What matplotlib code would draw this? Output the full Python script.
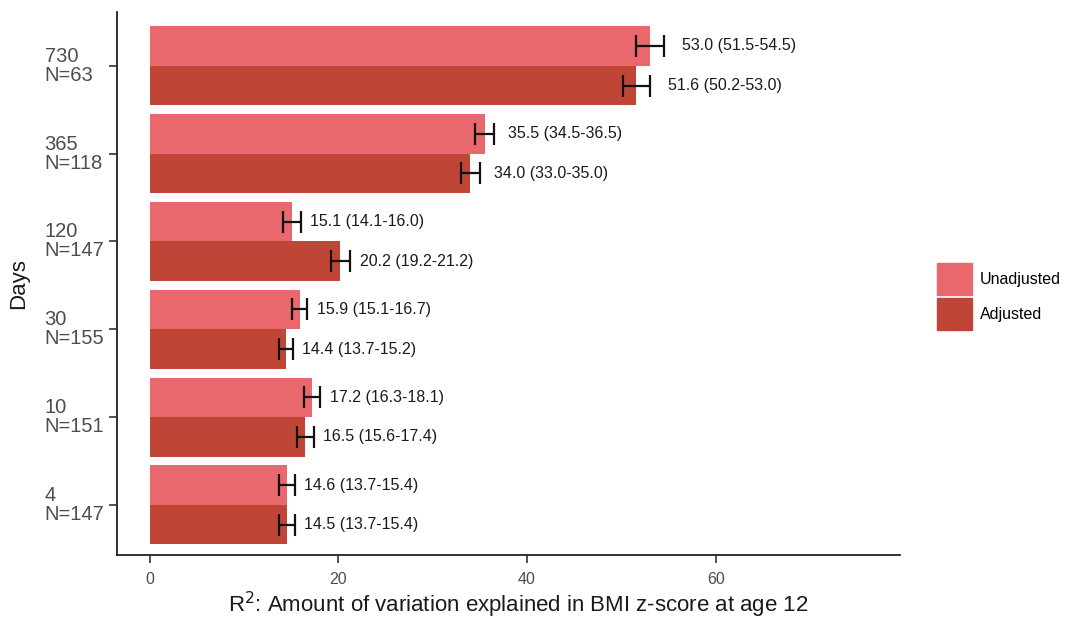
import numpy as np
import matplotlib.pyplot as plt

plt.rcParams['font.family'] = ['Liberation Sans', 'DejaVu Sans']

# data (top to bottom in the picture)
days = ['730', '365', '120', '30', '10', '4']
n_obs = [63, 118, 147, 155, 151, 147]
unadj = [53.0, 35.5, 15.1, 15.9, 17.2, 14.6]
unadj_lo = [51.5, 34.5, 14.1, 15.1, 16.3, 13.7]
unadj_hi = [54.5, 36.5, 16.0, 16.7, 18.1, 15.4]
adj = [51.6, 34.0, 20.2, 14.4, 16.5, 14.5]
adj_lo = [50.2, 33.0, 19.2, 13.7, 15.6, 13.7]
adj_hi = [53.0, 35.0, 21.2, 15.2, 17.4, 15.4]

c_unadj = '#E8686E'
c_adj = '#BF4536'

fig = plt.figure(figsize=(10.71, 6.18), dpi=100)
ax = fig.add_axes([0.109, 0.102, 0.731, 0.879])

# bottom group (4 days) at y=0
y = np.arange(len(days))[::-1].astype(float)
h = 0.45

def draw(vals, lo, hi, offset, color):
    vals = np.array(vals)
    lo = np.array(lo)
    hi = np.array(hi)
    yy = y + offset
    ax.barh(yy, vals, height=h, color=color, edgecolor='none')
    ax.errorbar(vals, yy, xerr=[vals - lo, hi - vals], fmt='none',
                ecolor='#111111', elinewidth=1.6, capsize=8, capthick=1.6)
    for v, l, u, yi in zip(vals, lo, hi, yy):
        ax.text(u + 0.6 + 0.025 * v, yi, f'{v:.1f} ({l:.1f}-{u:.1f})',
                va='center', ha='left', fontsize=11.5, color='#1a1a1a')

draw(unadj, unadj_lo, unadj_hi, h / 2, c_unadj)
draw(adj, adj_lo, adj_hi, -h / 2, c_adj)

ax.set_xlim(-3.5, 79.5)
ax.set_ylim(-0.57, 5.615)
ax.set_xticks([0, 20, 40, 60])
ax.set_yticks(y)
ax.set_yticklabels([f'{d}\nN={n}' for d, n in zip(days, n_obs)],
                   ha='left', va='center', fontsize=14.5, linespacing=1.0)
ax.tick_params(axis='y', length=6, width=1.2, pad=46, colors='#333333',
               labelcolor='#4d4d4d')
ax.tick_params(axis='x', length=6, width=1.2, labelsize=11.5, pad=6,
               labelcolor='#4d4d4d', colors='#333333')

for s in ['top', 'right']:
    ax.spines[s].set_visible(False)
for s in ['left', 'bottom']:
    ax.spines[s].set_linewidth(1.3)
    ax.spines[s].set_color('#222222')

ax.set_xlabel('R$^2$: Amount of variation explained in BMI z-score at age 12',
              fontsize=16, color='#1a1a1a', va='top')
ax.xaxis.set_label_coords(0.513, -0.064)
ax.set_ylabel('Days', fontsize=16, color='#1a1a1a')
ax.yaxis.set_label_coords(-0.112, 0.5)

handles = [plt.Rectangle((0, 0), 1, 1, color=c_unadj),
           plt.Rectangle((0, 0), 1, 1, color=c_adj)]
fig.legend(handles, ['Unadjusted', 'Adjusted'], loc='center left',
           bbox_to_anchor=(0.861, 0.52), frameon=False, fontsize=11.5,
           handlelength=2.2, handleheight=2.7, handletextpad=0.5,
           labelspacing=0.2)

fig.savefig('out.png', dpi=100)
